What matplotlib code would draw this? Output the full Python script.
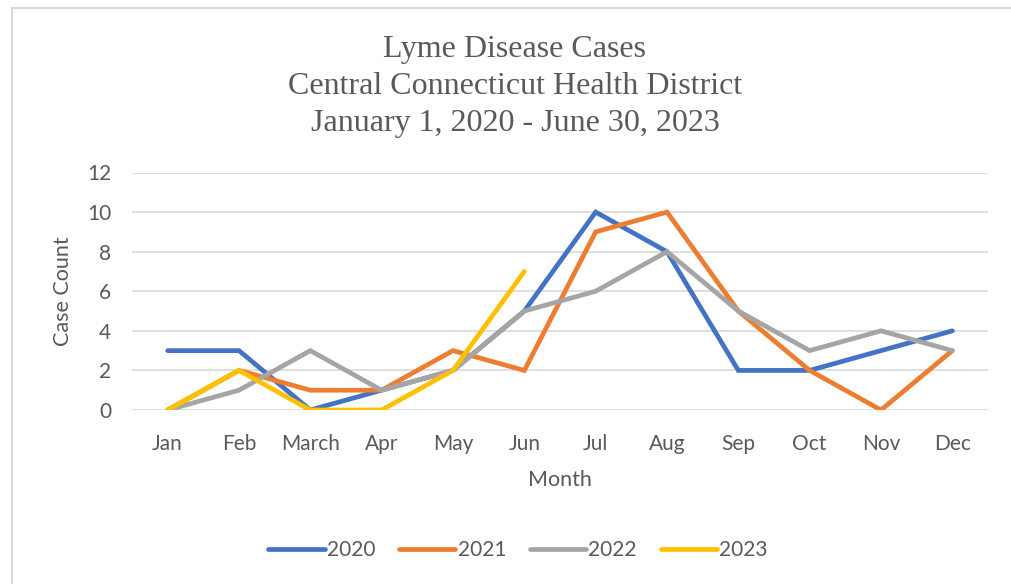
import matplotlib
matplotlib.use("Agg")
import matplotlib.pyplot as plt
from matplotlib.patches import Rectangle

months = ["Jan", "Feb", "March", "Apr", "May", "Jun", "Jul", "Aug", "Sep", "Oct", "Nov", "Dec"]
cases_2020 = [3, 3, 0, 1, 2, 5, 10, 8, 2, 2, 3, 4]
cases_2021 = [0, 2, 1, 1, 3, 2, 9, 10, 5, 2, 0, 3]
cases_2022 = [0, 1, 3, 1, 2, 5, 6, 8, 5, 3, 4, 3]
cases_2023 = [0, 2, 0, 0, 2, 7]
series_names = ["2020", "2021", "2022", "2023"]
colors = ["#4472C4", "#ED7D31", "#A5A5A5", "#FFC000"]

txt = "#595959"
sans = ["Lato", "DejaVu Sans"]
serif = ["Liberation Serif", "DejaVu Serif"]

fig = plt.figure(figsize=(10.12, 5.84), dpi=100)
# chart frame (cut off at right and bottom as in the original)
fig.patches.append(Rectangle((12 / 1012, -0.1), 1.2, 1 - 8.5 / 584 + 0.1,
                             transform=fig.transFigure, fill=False,
                             edgecolor="#d9d9d9", linewidth=1.5))

ax = fig.add_axes([132 / 1012, 1 - 410 / 584, (988 - 132) / 1012, (410 - 172.5) / 584])

x = list(range(len(months)))
for vals, name, c in zip([cases_2020, cases_2021, cases_2022, cases_2023], series_names, colors):
    ax.plot(x[:len(vals)], vals, color=c, linewidth=3.4, label=name,
            solid_joinstyle="miter", solid_capstyle="round")

ax.set_xlim(-0.5, 11.5)
ax.set_ylim(0, 12)
ax.set_yticks(range(0, 13, 2))
ax.set_xticks(x)
ax.set_xticklabels(months)
ax.grid(axis="y", color="#d9d9d9", linewidth=1.2)
ax.set_axisbelow(True)
for s in ax.spines.values():
    s.set_visible(False)
ax.tick_params(length=0, labelsize=15, labelcolor=txt)
ax.tick_params(axis="x", pad=17)
ax.tick_params(axis="y", pad=15)
for lab in ax.get_xticklabels() + ax.get_yticklabels():
    lab.set_family(sans)

ax.set_xlabel("Month", fontsize=15.5, color=txt, family=sans, labelpad=12)
ax.set_ylabel("Case Count", fontsize=15.5, color=txt, family=sans, labelpad=10)

titles = ["Lyme Disease Cases", "Central Connecticut Health District", "January 1, 2020 - June 30, 2023"]
for i, t in enumerate(titles):
    fig.text(515 / 1012, 1 - (49 + 37.5 * i) / 584, t, ha="center", va="center",
             fontsize=23, color=txt, family=serif)

leg = ax.legend(loc="center", bbox_to_anchor=(518 / 1012, 1 - 550 / 584),
                bbox_transform=fig.transFigure, ncol=4, frameon=False,
                handlelength=2.7, handletextpad=0.1, columnspacing=1.15,
                prop={"family": sans, "size": 15})
for t in leg.get_texts():
    t.set_color(txt)

fig.savefig("out.png", dpi=100)
